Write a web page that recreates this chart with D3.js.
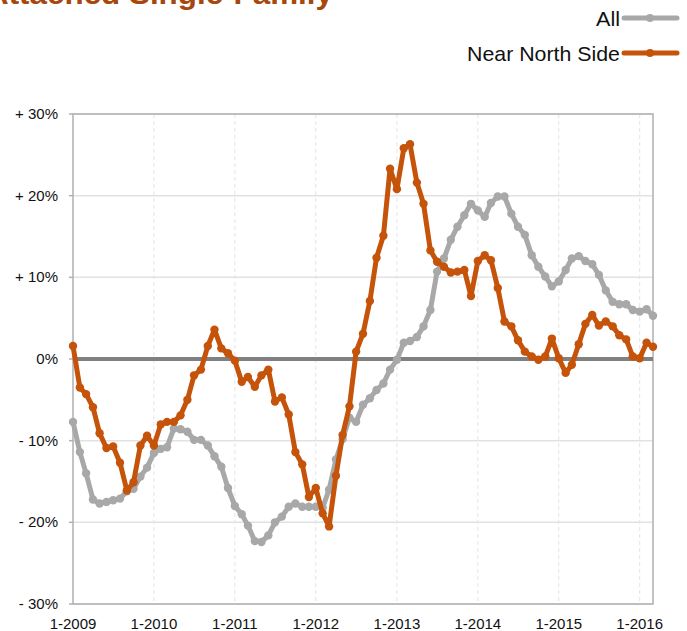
<!DOCTYPE html>
<html>
<head>
<meta charset="utf-8">
<script src="https://cdn.jsdelivr.net/npm/d3@7"></script>
<style>
  body { margin: 0; background: #fff; }
  text { font-family: "Liberation Sans", Arial, Helvetica, sans-serif; }
</style>
</head>
<body>
<script>
// monthly change, Jan 2009 .. Mar 2016
var allValues = [
  -7.7, -11.4, -14.0, -17.2, -17.7, -17.5, -17.3, -17.1, -16.2, -15.9,
  -14.4, -13.3, -11.5, -11.0, -10.8, -8.5, -8.6, -8.9, -9.9, -9.9,
  -10.6, -11.9, -13.2, -15.8, -18.0, -19.0, -20.4, -22.3, -22.4, -21.6,
  -20.0, -19.3, -18.1, -17.7, -18.1, -18.1, -18.1, -18.2, -16.0, -12.3,
  -9.8, -7.2, -7.7, -5.6, -4.8, -3.8, -3.0, -1.3, -0.1, 2.0,
  2.2, 2.7, 4.0, 6.0, 10.7, 12.3, 14.6, 16.2, 17.6, 19.0,
  18.2, 17.4, 19.1, 19.9, 19.9, 17.8, 16.2, 15.2, 12.7, 11.3,
  10.1, 8.9, 9.5, 10.9, 12.3, 12.6, 12.0, 11.6, 10.3, 8.4,
  7.0, 6.7, 6.7, 6.0, 5.8, 6.1, 5.3
];
var nearNorthValues = [
  1.6, -3.5, -4.3, -5.9, -9.1, -10.9, -10.7, -12.7, -16.1, -15.1,
  -10.6, -9.4, -10.6, -8.0, -7.7, -7.7, -6.9, -5.0, -2.0, -1.3,
  1.6, 3.6, 1.3, 0.7, -0.2, -2.8, -2.2, -3.4, -2.0, -1.3,
  -5.2, -4.7, -6.8, -11.4, -12.9, -16.9, -15.8, -18.9, -20.5, -14.3,
  -9.3, -5.8, 0.9, 3.1, 7.1, 12.4, 15.1, 23.3, 20.8, 25.8,
  26.3, 21.6, 19.0, 13.3, 11.9, 11.3, 10.6, 10.7, 10.9, 7.7,
  12.0, 12.7, 12.1, 8.7, 4.6, 4.0, 2.3, 0.9, 0.3, -0.1,
  0.3, 2.5, 0.1, -1.7, -0.7, 1.8, 4.3, 5.4, 4.1, 4.6,
  4.0, 2.9, 2.4, 0.3, 0.1, 2.0, 1.5
];
var seriesNames = ["All", "Near North Side"];
var yTicks = [30, 20, 10, 0, -10, -20, -30];
var yTickLabels = ["+ 30%", "+ 20%", "+ 10%", "0%", "- 10%", "- 20%", "- 30%"];
var xTickLabels = ["1-2009", "1-2010", "1-2011", "1-2012", "1-2013", "1-2014", "1-2015", "1-2016"];

var width = 687, height = 631;
// note: "top" is taken by window.top, so plot edges get a prefix
var plotLeft = 73, plotRight = 653, plotTop = 114, plotBottom = 604;
var gray = "#a8a8a8", orange = "#c5530a";

var months = allValues.map(function(d, i) { return new Date(2009, i, 1); });

var x = d3.scaleTime()
  .domain([months[0], months[months.length - 1]])
  .range([plotLeft, plotRight]);
var y = d3.scaleLinear().domain([-30, 30]).range([plotBottom, plotTop]);

var svg = d3.select("body").append("svg")
  .attr("width", width)
  .attr("height", height);

// title, mostly cropped off the top
svg.append("text")
  .attr("x", -14).attr("y", 4)
  .attr("textLength", 347).attr("lengthAdjust", "spacingAndGlyphs")
  .style("font-size", "30px").style("font-weight", "bold")
  .style("fill", "#a6480e")
  .text("Attached Single-Family");

// horizontal grid
svg.append("g").selectAll("line").data(yTicks.filter(function(d) { return d !== 0; }))
  .enter().append("line")
  .attr("x1", plotLeft).attr("x2", plotRight)
  .attr("y1", function(d) { return y(d); }).attr("y2", function(d) { return y(d); })
  .attr("stroke", "#e2e2e2").attr("stroke-width", 1.5);

// vertical dashed grid, one per year
var yearTicks = xTickLabels.map(function(t, i) { return new Date(2009 + i, 0, 1); });
svg.append("g").selectAll("line").data(yearTicks.slice(1))
  .enter().append("line")
  .attr("x1", function(d) { return x(d); }).attr("x2", function(d) { return x(d); })
  .attr("y1", plotTop).attr("y2", plotBottom)
  .attr("stroke", "#e4e4e4").attr("stroke-width", 1)
  .attr("stroke-dasharray", "4,3");

// frame
svg.append("rect")
  .attr("x", plotLeft).attr("y", plotTop)
  .attr("width", plotRight - plotLeft).attr("height", plotBottom - plotTop)
  .attr("fill", "none").attr("stroke", "#b0b0b0").attr("stroke-width", 1.5);

// y axis ticks + labels
var yAxis = svg.append("g");
yAxis.selectAll("line").data(yTicks).enter().append("line")
  .attr("x1", plotLeft - 4).attr("x2", plotLeft)
  .attr("y1", function(d) { return y(d); }).attr("y2", function(d) { return y(d); })
  .attr("stroke", "#b0b0b0").attr("stroke-width", 1.5);
yAxis.selectAll("text").data(yTicks).enter().append("text")
  .attr("x", 58)
  .attr("y", function(d) { return y(d) + 5; })
  .attr("text-anchor", "end")
  .style("font-size", "15px").style("fill", "#111")
  .text(function(d, i) { return yTickLabels[i]; });

// x labels
svg.append("g").selectAll("text").data(yearTicks).enter().append("text")
  .attr("x", function(d) { return x(d); })
  .attr("y", 629)
  .attr("text-anchor", "middle")
  .style("font-size", "15px").style("fill", "#111")
  .text(function(d, i) { return xTickLabels[i]; });

// zero line
svg.append("line")
  .attr("x1", plotLeft).attr("x2", plotRight)
  .attr("y1", y(0)).attr("y2", y(0))
  .attr("stroke", "#808080").attr("stroke-width", 4);

var line = d3.line()
  .x(function(d, i) { return x(months[i]); })
  .y(function(d) { return y(d); });

function drawSeries(values, color) {
  svg.append("path")
    .datum(values)
    .attr("d", line)
    .attr("fill", "none")
    .attr("stroke", color)
    .attr("stroke-width", 5)
    .attr("stroke-linejoin", "round");
  svg.append("g").selectAll("circle").data(values).enter().append("circle")
    .attr("cx", function(d, i) { return x(months[i]); })
    .attr("cy", function(d) { return y(d); })
    .attr("r", 4.2)
    .attr("fill", color);
}
drawSeries(allValues, gray);
drawSeries(nearNorthValues, orange);

// legend, right aligned at the top
var legend = svg.append("g");
var legendY = [18, 53];
var legendColors = [gray, orange];
seriesNames.forEach(function(name, i) {
  legend.append("text")
    .attr("x", 620).attr("y", legendY[i] + 8)
    .attr("text-anchor", "end")
    .attr("textLength", i === 0 ? 24 : 153).attr("lengthAdjust", "spacingAndGlyphs")
    .style("font-size", "21px").style("fill", "#111")
    .text(name);
  legend.append("line")
    .attr("x1", 624).attr("x2", 677)
    .attr("y1", legendY[i]).attr("y2", legendY[i])
    .attr("stroke", legendColors[i]).attr("stroke-width", 5)
    .attr("stroke-linecap", "round");
  legend.append("circle")
    .attr("cx", 650).attr("cy", legendY[i]).attr("r", 4)
    .attr("fill", legendColors[i]);
});
</script>
</body>
</html>
